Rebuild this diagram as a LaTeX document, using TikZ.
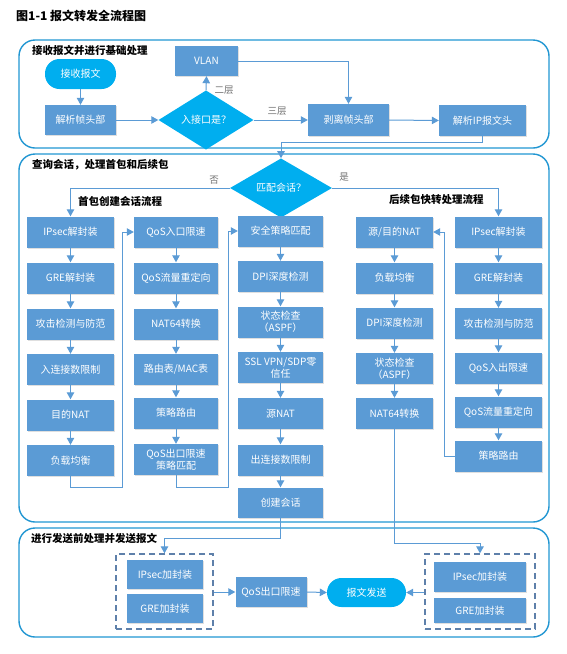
\documentclass[tikz,border=0pt]{standalone}
\usepackage{fontspec}
\setmainfont{Noto Sans CJK SC}
\usetikzlibrary{arrows.meta,shapes.geometric,shadows}
\definecolor{boxblue}{HTML}{5B9BD5}
\definecolor{cyanb}{HTML}{00AEEF}
\definecolor{frameb}{RGB}{33,150,210}
\definecolor{dashc}{HTML}{5E80AA}
\definecolor{lblgray}{HTML}{707070}
\begin{document}
\begin{tikzpicture}[x=1pt,y=-1pt,
  box/.style={fill=boxblue, text=white, inner sep=0pt, minimum height=31pt, align=center,
    font=\fontsize{10}{12}\selectfont,
    drop shadow={shadow xshift=1pt, shadow yshift=-1.2pt, opacity=0.25, fill=black!50}},
  pill/.style={fill=cyanb, text=white, inner sep=0pt, rounded corners=14.5pt, align=center,
    font=\fontsize{10}{12}\selectfont},
  dia/.style={diamond, fill=cyanb, text=white, inner sep=0pt, font=\fontsize{10}{12}\selectfont},
  frame/.style={draw=frameb, line width=1.4pt, rounded corners=16pt},
  ftitle/.style={anchor=west, font=\fontsize{10.5}{12}\selectfont\bfseries, text=black, inner sep=0pt},
  glabel/.style={font=\fontsize{9.5}{11}\selectfont, text=lblgray, inner sep=0pt},
  arr/.style={draw=boxblue, line width=1pt, -{Triangle[length=7pt,width=7.5pt]}},
  dbox/.style={draw=dashc, line width=1.3pt, dash pattern=on 6pt off 4pt, inner sep=0pt}
]
\useasboundingbox (0,0) rectangle (567,654);

% title
\node[anchor=west, inner sep=0pt, font=\fontsize{12}{14}\selectfont\bfseries] (title) at (16,16) {图1-1 报文转发全流程图};

% frames
\draw[frame] (19,40) rectangle (549,148);
\draw[frame] (19,154) rectangle (549,522);
\draw[frame] (19,528) rectangle (549,637);
\node[ftitle] (t1) at (32,50) {接收报文并进行基础处理};
\node[ftitle] (t2) at (32,165) {查询会话，处理首包和后续包};
\node[ftitle] (t3) at (31,538) {进行发送前处理并发送报文};
\node[ftitle] (t4) at (78,201) {首包创建会话流程};
\node[ftitle] (t5) at (389,200) {后续包快转处理流程};

% ---- section 1
\node[pill, minimum width=71pt, minimum height=30pt] (recv) at (80.5,74) {接收报文};
\node[box, minimum width=71pt, minimum height=30pt] (frame) at (80.5,120) {解析帧头部};
\node[dia, minimum width=95pt, minimum height=43pt] (inif) at (206,120) {入接口是？};
\node[box, minimum width=63pt, minimum height=30pt] (vlan) at (206.5,61) {VLAN};
\node[box, minimum width=81pt, minimum height=32pt] (strip) at (348.5,120) {剥离帧头部};
\node[box, minimum width=87pt, minimum height=31pt] (iphdr) at (482.5,120.5) {解析IP报文头};

\draw[arr] (recv.south) -- (frame.north);
\draw[arr] (frame.east) -- (inif.west);
\draw[arr] (inif.north) -- (vlan.south);
\node[glabel] (l2) at (224,90) {二层};
\draw[arr] (inif.east) -- (strip.west);
\node[glabel] (l3) at (277,111) {三层};
\draw[arr] (vlan.east) -| (strip.north);
\draw[arr] (strip.east) -- (iphdr.west);

% ---- section 2
\node[dia, minimum width=102pt, minimum height=46pt] (match) at (281,188) {匹配会话？};
\coordinate (k1) at (482.5,142);
\draw[arr] (iphdr.south) -- (k1) -| (match.north);

% column 1
\begin{scope}[every node/.append style={minimum width=87pt}]
\node[box] (c1r1) at (70.5,232) {IPsec解封装};
\node[box] (c1r2) at (70.5,278) {GRE解封装};
\node[box] (c1r3) at (70.5,324) {攻击检测与防范};
\node[box] (c1r4) at (70.5,369.5) {入连接数限制};
\node[box] (c1r5) at (70.5,415) {目的NAT};
\node[box] (c1r6) at (70.5,460.5) {负载均衡};
\end{scope}
% column 2
\begin{scope}[every node/.append style={minimum width=84pt}]
\node[box] (c2r1) at (176,232) {QoS入口限速};
\node[box] (c2r2) at (176,278) {QoS流量重定向};
\node[box] (c2r3) at (176,324) {NAT64转换};
\node[box] (c2r4) at (176,369.5) {路由表/MAC表};
\node[box] (c2r5) at (176,413) {策略路由};
\node[box] (c2r6) at (176,459.5) {QoS出口限速\\策略匹配};
\end{scope}
% column 3
\begin{scope}[every node/.append style={minimum width=85pt}]
\node[box] (c3r1) at (280.5,231) {安全策略匹配};
\node[box] (c3r2) at (280.5,276.5) {DPI深度检测};
\node[box] (c3r3) at (280.5,322) {状态检查\\（ASPF）};
\node[box] (c3r4) at (280.5,367.5) {SSL VPN/SDP零\\信任};
\node[box] (c3r5) at (280.5,413.5) {源NAT};
\node[box] (c3r6) at (280.5,460) {出连接数限制};
\node[box, minimum height=30pt] (c3r7) at (280.5,502.5) {创建会话};
\end{scope}
% column 4
\begin{scope}[every node/.append style={minimum width=77pt}]
\node[box] (c4r1) at (394.5,232) {源/目的NAT};
\node[box] (c4r2) at (394.5,278) {负载均衡};
\node[box] (c4r3) at (394.5,323) {DPI深度检测};
\node[box] (c4r4) at (394.5,368.5) {状态检查\\（ASPF）};
\node[box] (c4r5) at (394.5,413.5) {NAT64转换};
\end{scope}
% column 5
\begin{scope}[every node/.append style={minimum width=87pt}]
\node[box] (c5r1) at (498.5,232) {IPsec解封装};
\node[box] (c5r2) at (498.5,278) {GRE解封装};
\node[box] (c5r3) at (498.5,323.5) {攻击检测与防范};
\node[box] (c5r4) at (498.5,368) {QoS入出限速};
\node[box] (c5r5) at (498.5,412) {QoS流量重定向};
\node[box] (c5r6) at (498.5,456) {策略路由};
\end{scope}

\draw[arr] (match.west) -| (c1r1.north);
\node[glabel] (no) at (214,180) {否};
\draw[arr] (match.east) -| (c5r1.north);
\node[glabel] (yes) at (344,177) {是};

\foreach \a/\b in {c1r1/c1r2,c1r2/c1r3,c1r3/c1r4,c1r4/c1r5,c1r5/c1r6,
                   c2r1/c2r2,c2r2/c2r3,c2r3/c2r4,c2r4/c2r5,c2r5/c2r6,
                   c3r1/c3r2,c3r2/c3r3,c3r3/c3r4,c3r4/c3r5,c3r5/c3r6,c3r6/c3r7,
                   c4r1/c4r2,c4r2/c4r3,c4r3/c4r4,c4r4/c4r5,
                   c5r1/c5r2,c5r2/c5r3,c5r3/c5r4,c5r4/c5r5,c5r5/c5r6}
  \draw[arr] (\a.south) -- (\b.north);

\coordinate (q1) at (122,487);
\draw[arr] (c1r6.south) |- (q1) |- (c2r1.west);
\coordinate (q2) at (228,487);
\draw[arr] (c2r6.south) |- (q2) |- (c3r1.west);
\coordinate (q3) at (444,232);
\draw[arr] (c5r6.west) -| (q3) -- (c4r1.east);

% ---- section 3
\node[dbox, minimum width=97pt, minimum height=75pt] (ldash) at (164.5,591.5) {};
\node[dbox, minimum width=110pt, minimum height=75pt] (rdash) at (480,591.5) {};
\node[box, minimum width=76pt, minimum height=29pt] (lips) at (165,574.5) {IPsec加封装};
\node[box, minimum width=76pt, minimum height=29pt] (lgre) at (165,608.5) {GRE加封装};
\node[box, minimum width=92pt, minimum height=30pt] (rips) at (480,577) {IPsec加封装};
\node[box, minimum width=92pt, minimum height=25pt] (rgre) at (480,610.5) {GRE加封装};
\node[box, minimum width=71pt, minimum height=30pt] (qosout) at (271,592) {QoS出口限速};
\node[pill, minimum width=79pt, minimum height=29pt] (send) at (366.5,592.5) {报文发送};

\coordinate (k2) at (280.5,538);
\draw[arr] (c3r7.south) -- (k2) -| (ldash.north);
\coordinate (k3) at (394.5,543);
\draw[arr] (c4r5.south) -- (k3) -| (rdash.north);
\draw[arr] (ldash.east |- qosout.west) -- (qosout.west);
\draw[arr] (qosout.east) -- (send.west);
\draw[arr] (rdash.west |- send.east) -- (send.east);
\end{tikzpicture}
\end{document}
